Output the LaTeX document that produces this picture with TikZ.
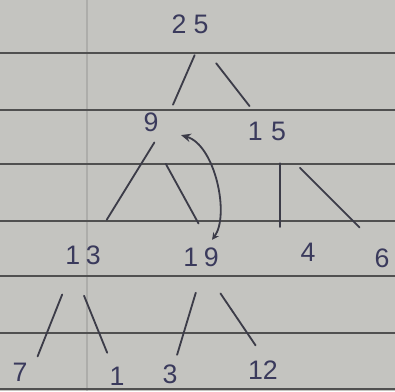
\documentclass[tikz,border=0pt]{standalone}
\usepackage{fontspec}
\setsansfont{Liberation Sans}
\usetikzlibrary{arrows.meta}
\definecolor{paper}{HTML}{C4C4C0}
\definecolor{rule}{HTML}{505050}
\definecolor{margin}{HTML}{ADADAA}
\definecolor{ink}{HTML}{3A3A5C}
\definecolor{pencil}{HTML}{3C3C48}

\tikzset{
  num/.style={circle, minimum size=1.1cm, inner sep=0pt,
    font=\sffamily\fontsize{19}{19}\selectfont, text=ink},
  branch/.style={line width=1.3pt, draw=pencil, line cap=round}
}

\begin{document}
\begin{tikzpicture}[x=0.025cm, y=-0.025cm]
  % Paper
  \fill[paper] (0, 0) rectangle (395, 391);
  \useasboundingbox (0, 0) rectangle (395, 391);

  % Ruled lines and margin
  \draw[margin, line width=1pt] (87, 0) -- (87, 391);
  \foreach \y in {53, 110, 164, 221, 276, 333, 389} {
    \draw[rule, line width=1.6pt] (0, \y) -- (395, \y);
  }

  % Tree nodes
  \node[num] (n25) at (190, 24) {2\hspace{5pt}5};
  \node[num] (n9)  at (151, 122) {9};
  \node[num] (n15) at (267, 131) {1\hspace{6pt}5};
  \node[num] (n13) at (83, 255) {1\hspace{4pt}3};
  \node[num] (n19) at (201, 257) {1\hspace{4pt}9};
  \node[num] (n4)  at (308, 252) {4};
  \node[num] (n6)  at (382, 258) {6};
  \node[num] (n7)  at (20, 372) {7};
  \node[num] (n1)  at (117, 376) {1};
  \node[num] (n3)  at (170, 374) {3};
  \node[num] (n12) at (263, 370) {12};

  % Branches
  \draw[branch, shorten <=8.5pt, shorten >=4.8pt] (n25.-65) -- (n9.30);
  \draw[branch, shorten <=17.8pt, shorten >=5.8pt] (n25.-61) -- (n15.124);
  \draw[branch, shorten <=-1.4pt, shorten >=14.4pt] (n9.-84) -- (n13.54);
  \draw[branch, shorten <=16.1pt, shorten >=9.4pt] (n9.-80) -- (n19.80);
  \draw[branch, shorten <=10.2pt, shorten >=2pt] (n15.-54) -- (n15.-54 |- n4.north);
  \draw[branch, shorten <=19.3pt, shorten >=11.4pt] (n15.-52) -- (n6.120);
  \draw[branch, shorten <=16.1pt, shorten >=1pt] (n13.-124) -- (n7.40);
  \draw[branch, shorten <=15pt, shorten >=2.1pt] (n13.-108) -- (n1.113);
  \draw[branch, shorten <=10pt, shorten >=-1.3pt] (n19.-93) -- (n3.70);
  \draw[branch, shorten <=13.7pt, shorten >=2.6pt] (n19.-67) -- (n12.104);

  % Swap arrow between 19 and 9
  \draw[branch, shorten <=7.5pt, shorten >=-1.3pt,
        {Stealth[length=7pt, width=6pt]}-{Stealth[length=5pt, width=5pt]}]
    (n9.-27) .. controls (215, 145) and (230, 215) .. (n19.57);
\end{tikzpicture}
\end{document}
